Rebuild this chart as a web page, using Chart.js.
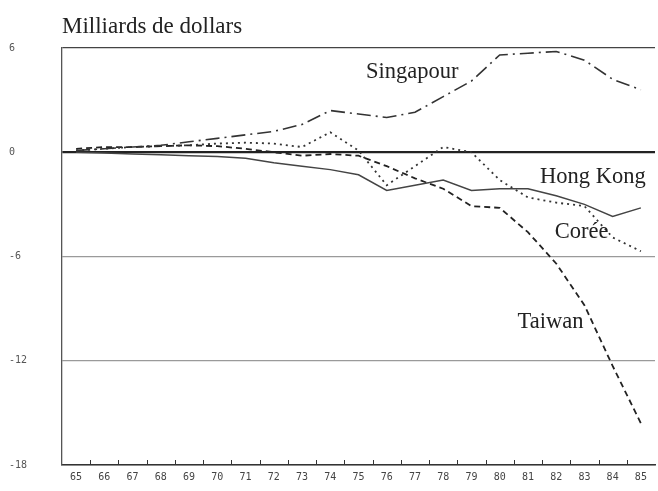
<!DOCTYPE html>
<html>
<head>
<meta charset="utf-8">
<script src="https://cdn.jsdelivr.net/npm/chart.js@4/dist/chart.umd.min.js"></script>
<style>
  html, body { margin: 0; padding: 0; background: #fff; }
  #wrap { width: 658px; height: 491px; }
</style>
</head>
<body>
<div id="wrap"><canvas id="balanceChart"></canvas></div>
<script>
// Years shown on the x axis (65 .. 85)
const years = ['65','66','67','68','69','70','71','72','73','74','75','76','77','78','79','80','81','82','83','84','85'];

// Milliards de dollars
const singapour = [0.1, 0.2, 0.3, 0.4, 0.6, 0.8, 1.0, 1.2, 1.6, 2.4, 2.2, 2.0, 2.3, 3.2, 4.1, 5.6, 5.7, 5.8, 5.3, 4.2, 3.6];
const hongKong  = [0.0, -0.05, -0.1, -0.15, -0.2, -0.25, -0.35, -0.6, -0.8, -1.0, -1.3, -2.2, -1.9, -1.6, -2.2, -2.1, -2.1, -2.5, -3.0, -3.7, -3.2];
const coree     = [0.1, 0.2, 0.3, 0.35, 0.4, 0.5, 0.55, 0.5, 0.3, 1.15, 0.1, -1.9, -0.8, 0.3, 0.0, -1.6, -2.6, -2.9, -3.1, -4.9, -5.7];
const taiwan    = [0.2, 0.3, 0.3, 0.35, 0.4, 0.35, 0.2, 0.0, -0.2, -0.1, -0.2, -0.8, -1.5, -2.1, -3.1, -3.2, -4.6, -6.4, -8.8, -12.3, -15.6];

const yTicks = [6, 0, -6, -12, -18];

// text labels placed next to the curves (year index, value)
const curveLabels = [
    { text: 'Singapour', at: 11.9, value: 4.6 },
    { text: 'Hong Kong', at: 18.3, value: -1.45 },
    { text: 'Corée', at: 17.9, value: -4.6 },
    { text: 'Taiwan', at: 16.8, value: -9.8 }
];

const serif = '"Liberation Serif", "DejaVu Serif", serif';
const mono = '"DejaVu Sans Mono", "Liberation Mono", monospace';

// title, inner tick marks and curve labels
const decorations = {
    id: 'decorations',
    afterDraw(chart) {
        const ctx = chart.ctx;
        const area = chart.chartArea;
        const x = chart.scales.x;
        const y = chart.scales.y;
        ctx.save();

        // small ticks pointing up from the bottom axis, between years
        ctx.strokeStyle = '#333';
        ctx.lineWidth = 1;
        for (let i = 0; i < years.length - 1; i++) {
            const px = Math.round((x.getPixelForValue(i) + x.getPixelForValue(i + 1)) / 2) + 0.5;
            ctx.beginPath();
            ctx.moveTo(px, area.bottom);
            ctx.lineTo(px, area.bottom - 5);
            ctx.stroke();
        }

        // title
        ctx.fillStyle = '#222';
        ctx.font = '23px ' + serif;
        ctx.textAlign = 'left';
        ctx.textBaseline = 'alphabetic';
        ctx.fillText('Milliards de dollars', area.left, area.top - 15);

        // curve labels
        const step = x.getPixelForValue(1) - x.getPixelForValue(0);
        ctx.font = '22.5px ' + serif;
        ctx.textAlign = 'center';
        ctx.textBaseline = 'middle';
        curveLabels.forEach(l => {
            const px = x.getPixelForValue(0) + l.at * step;
            ctx.fillText(l.text, px, y.getPixelForValue(l.value));
        });
        ctx.restore();
    }
};

function gridColor(c) {
    const v = c.tick.value;
    if (v === 0) return '#222';
    if (v === 6) return '#444';
    return '#9a9a9a';
}
function gridWidth(c) {
    const v = c.tick.value;
    if (v === 0) return 2.2;
    if (v === 6) return 1.3;
    return 1.2;
}

const ctx = document.getElementById('balanceChart').getContext('2d');
new Chart(ctx, {
    type: 'line',
    data: {
        labels: years,
        datasets: [
            { label: 'Singapour', data: singapour, borderColor: '#333', borderWidth: 1.6, borderDash: [14, 5, 2, 5] },
            { label: 'Hong Kong', data: hongKong, borderColor: '#444', borderWidth: 1.5 },
            { label: 'Corée', data: coree, borderColor: '#333', borderWidth: 1.8, borderDash: [2, 4] },
            { label: 'Taiwan', data: taiwan, borderColor: '#222', borderWidth: 1.8, borderDash: [6, 4] }
        ]
    },
    options: {
        responsive: true,
        maintainAspectRatio: false,
        animation: false,
        layout: { padding: { top: 48, right: 3, left: 9, bottom: 0 } },
        elements: {
            point: { radius: 0 },
            line: { tension: 0, fill: false, borderCapStyle: 'butt' }
        },
        plugins: {
            legend: { display: false },
            title: { display: false },
            tooltip: { enabled: false }
        },
        scales: {
            x: {
                type: 'category',
                offset: true,
                grid: { display: false, drawTicks: false },
                border: { display: true, color: '#333', width: 1.5 },
                ticks: {
                    color: '#444',
                    font: { family: mono, size: 10 },
                    padding: 6,
                    maxRotation: 0,
                    autoSkip: false
                },
                afterFit: scale => { scale.height = 26; }
            },
            y: {
                min: -18,
                max: 6,
                afterBuildTicks: scale => { scale.ticks = yTicks.map(v => ({ value: v })); },
                grid: { color: gridColor, lineWidth: gridWidth, drawTicks: false },
                border: { display: true, color: '#555', width: 1.3 },
                ticks: {
                    color: '#555',
                    font: { family: mono, size: 10 },
                    crossAlign: 'far',
                    padding: 8
                },
                afterFit: scale => { scale.width = 53; }
            }
        }
    },
    plugins: [decorations]
});
</script>
</body>
</html>
